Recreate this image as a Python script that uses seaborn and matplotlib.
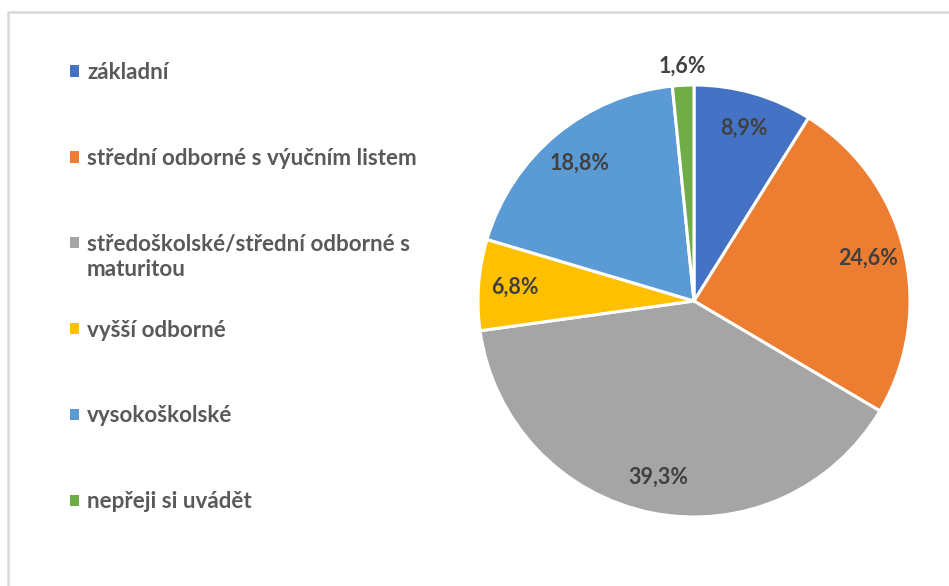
import matplotlib
matplotlib.use("Agg")
import matplotlib.pyplot as plt
import matplotlib.patches as mpatches
import seaborn as sns

categories = [
    "základní",
    "střední odborné s výučním listem",
    "středoškolské/střední odborné s",
    "vyšší odborné",
    "vysokoškolské",
    "nepřeji si uvádět",
]
category_extra_line = {2: "maturitou"}
values = [8.9, 24.6, 39.3, 6.8, 18.8, 1.6]
colors = ["#4472C4", "#ED7D31", "#A5A5A5", "#FFC000", "#5B9BD5", "#70AD47"]

sns.set_theme(style="white")
plt.rcParams["font.family"] = ["Lato", "DejaVu Sans"]

W, H = 949, 586
LEG_FS = 16.1
PCT_FS = 15.5
fig = plt.figure(figsize=(W / 100, H / 100), dpi=100)
fig.patch.set_facecolor("white")

# chart border (only top and left visible)
fig.add_artist(mpatches.Rectangle((7.5 / W, -0.2), 2.0, 1.2 - 12 / H,
                                  transform=fig.transFigure, fill=False,
                                  edgecolor="#D9D9D9", linewidth=1.8))

cx, cy, R = 694, H - 301, 216
ax = fig.add_axes([(cx - R) / W, (cy - R) / H, 2 * R / W, 2 * R / H])
wedges, texts, autotexts = ax.pie(
    values, colors=colors, startangle=90, counterclock=False,
    autopct=lambda p: f"{p:.1f}".replace(".", ",") + "%",
    pctdistance=0.83, radius=1.0,
    wedgeprops=dict(edgecolor="white", linewidth=2.2),
    textprops=dict(fontsize=PCT_FS, fontweight="bold", color="#404040"),
)
ax.set_xlim(-1, 1)
ax.set_ylim(-1, 1)
ax.set_aspect("equal")
ax.axis("off")
# small slice label placed outside
x, y = autotexts[-1].get_position()
autotexts[-1].set_position((x * 1.09 / 0.83, y * 1.09 / 0.83))
for t in autotexts:
    t.set_clip_on(False)

handles = [mpatches.Patch(facecolor=c, edgecolor="none") for c in colors]
leg = fig.legend(handles, categories, loc="upper left",
                 bbox_to_anchor=(70 / W, 1 - 62 / H),
                 frameon=False, borderpad=0, borderaxespad=0,
                 handlelength=0.41, handleheight=0.41,
                 handletextpad=0.35, labelspacing=2.9,
                 prop=dict(size=LEG_FS, weight="bold"), labelcolor="#595959")

fig.canvas.draw()
inv = fig.transFigure.inverted()
for idx, extra in category_extra_line.items():
    t = leg.get_texts()[idx]
    bb = t.get_window_extent()
    x0, y0 = inv.transform((bb.x0, bb.y0))
    fig.text(x0, y0 - 4 / H, extra, ha="left", va="top",
             fontsize=LEG_FS, fontweight="bold", color="#595959")

fig.savefig("out.png", dpi=100, facecolor="white")
